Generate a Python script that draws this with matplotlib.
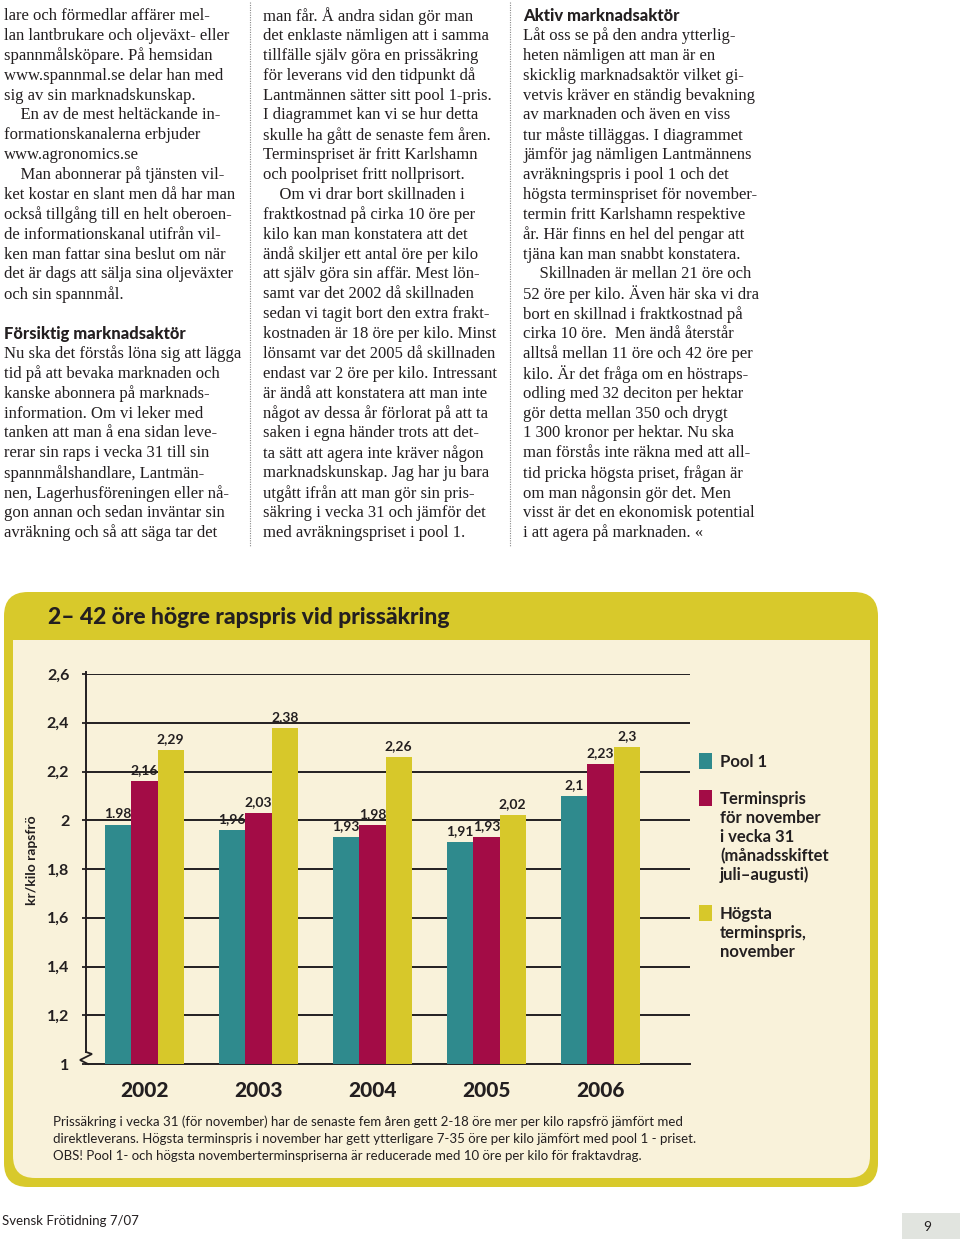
import numpy as np
import matplotlib.pyplot as plt
from matplotlib.patches import FancyBboxPatch, Rectangle

# chart data
years = ['2002', '2003', '2004', '2005', '2006']
pool1 = [1.98, 1.96, 1.93, 1.91, 2.10]
termin_v31 = [2.16, 2.03, 1.98, 1.93, 2.23]
hogsta_nov = [2.29, 2.38, 2.26, 2.02, 2.30]
pool1_lab = ['1.98', '1,96', '1,93', '1,91', '2,1']
termin_lab = ['2,16', '2,03', '1,98', '1,93', '2,23']
hogsta_lab = ['2,29', '2,38', '2,26', '2,02', '2,3']
yticks = [1, 1.2, 1.4, 1.6, 1.8, 2, 2.2, 2.4, 2.6]
ytick_lab = ['1', '1,2', '1,4', '1,6', '1,8', '2', '2,2', '2,4', '2,6']
legend_txt = [['Pool 1'],
              ['Terminspris', 'för november', 'i vecka 31', '(månadsskiftet', 'juli–augusti)'],
              ['Högsta', 'terminspris,', 'november']]
title = '2– 42 öre högre rapspris vid prissäkring'
ylabel = 'kr/kilo rapsfrö'
caption = ['Prissäkring i vecka 31 (för november) har de senaste fem åren gett 2-18 öre mer per kilo rapsfrö jämfört med',
           'direktleverans. Högsta terminspris i november har gett ytterligare 7-35 öre per kilo jämfört med pool 1 - priset.',
           'OBS! Pool 1- och högsta novemberterminspriserna är reducerade med 10 öre per kilo för fraktavdrag.']

# article text, one entry per printed line ('' = blank, '#' = heading)
col1 = ['lare och förmedlar affärer mel-',
        'lan lantbrukare och oljeväxt- eller',
        'spannmålsköpare. På hemsidan',
        'www.spannmal.se delar han med',
        'sig av sin marknadskunskap.',
        '    En av de mest heltäckande in-',
        'formationskanalerna erbjuder',
        'www.agronomics.se',
        '    Man abonnerar på tjänsten vil-',
        'ket kostar en slant men då har man',
        'också tillgång till en helt oberoen-',
        'de informationskanal utifrån vil-',
        'ken man fattar sina beslut om när',
        'det är dags att sälja sina oljeväxter',
        'och sin spannmål.',
        '',
        '#Försiktig marknadsaktör',
        'Nu ska det förstås löna sig att lägga',
        'tid på att bevaka marknaden och',
        'kanske abonnera på marknads-',
        'information. Om vi leker med',
        'tanken att man å ena sidan leve-',
        'rerar sin raps i vecka 31 till sin',
        'spannmålshandlare, Lantmän-',
        'nen, Lagerhusföreningen eller nå-',
        'gon annan och sedan inväntar sin',
        'avräkning och så att säga tar det']
col2 = ['man får. Å andra sidan gör man',
        'det enklaste nämligen att i samma',
        'tillfälle själv göra en prissäkring',
        'för leverans vid den tidpunkt då',
        'Lantmännen sätter sitt pool 1-pris.',
        'I diagrammet kan vi se hur detta',
        'skulle ha gått de senaste fem åren.',
        'Terminspriset är fritt Karlshamn',
        'och poolpriset fritt nollprisort.',
        '    Om vi drar bort skillnaden i',
        'fraktkostnad på cirka 10 öre per',
        'kilo kan man konstatera att det',
        'ändå skiljer ett antal öre per kilo',
        'att själv göra sin affär. Mest lön-',
        'samt var det 2002 då skillnaden',
        'sedan vi tagit bort den extra frakt-',
        'kostnaden är 18 öre per kilo. Minst',
        'lönsamt var det 2005 då skillnaden',
        'endast var 2 öre per kilo. Intressant',
        'är ändå att konstatera att man inte',
        'något av dessa år förlorat på att ta',
        'saken i egna händer trots att det-',
        'ta sätt att agera inte kräver någon',
        'marknadskunskap. Jag har ju bara',
        'utgått ifrån att man gör sin pris-',
        'säkring i vecka 31 och jämför det',
        'med avräkningspriset i pool 1.']
col3 = ['#Aktiv marknadsaktör',
        'Låt oss se på den andra ytterlig-',
        'heten nämligen att man är en',
        'skicklig marknadsaktör vilket gi-',
        'vetvis kräver en ständig bevakning',
        'av marknaden och även en viss',
        'tur måste tilläggas. I diagrammet',
        'jämför jag nämligen Lantmännens',
        'avräkningspris i pool 1 och det',
        'högsta terminspriset för november-',
        'termin fritt Karlshamn respektive',
        'år. Här finns en hel del pengar att',
        'tjäna kan man snabbt konstatera.',
        '    Skillnaden är mellan 21 öre och',
        '52 öre per kilo. Även här ska vi dra',
        'bort en skillnad i fraktkostnad på',
        'cirka 10 öre.  Men ändå återstår',
        'alltså mellan 11 öre och 42 öre per',
        'kilo. Är det fråga om en höstraps-',
        'odling med 32 deciton per hektar',
        'gör detta mellan 350 och drygt',
        '1 300 kronor per hektar. Nu ska',
        'man förstås inte räkna med att all-',
        'tid pricka högsta priset, frågan är',
        'om man någonsin gör det. Men',
        'visst är det en ekonomisk potential',
        'i att agera på marknaden. «']

TEAL = '#2F8A8D'
RED = '#A30C46'
YEL = '#D7C82A'
FRAME = '#D8C92B'
CREAM = '#F9F2DA'
INK = '#231F20'
SANS = ['Lato', 'DejaVu Sans']
SERIF = ['Liberation Serif', 'DejaVu Serif']

W, H = 960, 1239
fig = plt.figure(figsize=(W / 100, H / 100), dpi=100)
bg = fig.add_axes([0, 0, 1, 1])
bg.set_xlim(0, W)
bg.set_ylim(H, 0)
bg.axis('off')

# body text columns
for x0, lines in [(4, col1), (263, col2), (523, col3)]:
    for i, ln in enumerate(lines):
        y = 16 + i * 19.88
        if ln.startswith('#'):
            bg.text(x0, y, ln[1:], family=SANS, weight='black', fontsize=11.9,
                    color=INK, va='center')
        elif ln:
            bg.text(x0, y, ln, family=SERIF, fontsize=12, color=INK, va='center')
for xs in [250, 510]:
    bg.plot([xs, xs], [2, 546], color='#888888', lw=0.8, ls=(0, (1, 1.2)))

# chart frame
bg.add_patch(FancyBboxPatch((4, 592), 874, 595, boxstyle='round,pad=0,rounding_size=24',
                            fc=FRAME, ec='none'))
bg.add_patch(FancyBboxPatch((13, 640), 857, 538, boxstyle='round,pad=0,rounding_size=22',
                            fc=CREAM, ec='none'))
bg.add_patch(Rectangle((13, 640), 857, 60, fc=CREAM, ec='none'))
bg.text(48, 617, title, family=SANS, weight='black', fontsize=16.5, color=INK, va='center')

# axis break mark
bg.plot([86, 92, 80, 88], [1052, 1054, 1060, 1064], color=INK, lw=1.3,
        solid_joinstyle='miter')

ax = fig.add_axes([86 / W, (H - 1064) / H, 604 / W, 390 / H])
ax.set_facecolor('none')
x = np.arange(len(years))
bw = 0.23
for off, vals, labs, col in [(-bw, pool1, pool1_lab, TEAL),
                             (0, termin_v31, termin_lab, RED),
                             (bw, hogsta_nov, hogsta_lab, YEL)]:
    ax.bar(x + off, vals, width=bw, color=col, zorder=3)
    for xi, v, lb in zip(x + off, vals, labs):
        ax.annotate(lb, (xi, v), xytext=(0, 3.5), textcoords='offset points',
                    ha='center', va='bottom', family=SANS, weight='bold',
                    fontsize=10, color=INK)
ax.set_xlim(-0.513, 4.785)
ax.set_ylim(1, 2.6)
ax.set_yticks(yticks)
ax.set_yticklabels(ytick_lab, family=SANS, weight='bold', fontsize=11.5, color=INK)
ax.set_xticks(x)
ax.set_xticklabels(years, family=SANS, weight='black', fontsize=15, color=INK)
ax.tick_params(axis='y', length=3, width=1.3, color=INK, pad=9)
ax.tick_params(axis='x', length=0, pad=12)
for yv in yticks[1:]:
    ax.axhline(yv, color=INK, lw=1.4, zorder=1)
for s in ['top', 'right']:
    ax.spines[s].set_visible(False)
ax.spines['left'].set_bounds(1.048, 2.61)
ax.spines['left'].set_linewidth(1.4)
ax.spines['bottom'].set_linewidth(1.4)
ax.spines['left'].set_color(INK)
ax.spines['bottom'].set_color(INK)
ax.spines['left'].set_clip_on(False)

bg.text(32, 860, ylabel, family=SANS, weight='bold', fontsize=10, color=INK,
        rotation=90, ha='center', va='center')

# legend
for (sq_y, lines), col in zip(zip([753, 790, 905], legend_txt), [TEAL, RED, YEL]):
    bg.add_patch(Rectangle((699, sq_y), 13, 16, fc=col, ec='none'))
    for j, ln in enumerate(lines):
        bg.text(720, sq_y + 9 + j * 19, ln, family=SANS, weight='bold', fontsize=12,
                color=INK, va='center')

for j, ln in enumerate(caption):
    bg.text(53, 1122 + j * 17, ln, family=SANS, fontsize=9.5, color=INK, va='center')

# footer
bg.text(2, 1221, 'Svensk Frötidning 7/07', family=SANS, fontsize=9.5, color=INK, va='center')
bg.add_patch(Rectangle((902, 1213), 58, 26, fc='#E1E4DF', ec='none'))
bg.text(927, 1227, '9', family=SANS, fontsize=10, color=INK, ha='center', va='center')

fig.savefig('out.png', dpi=100)
